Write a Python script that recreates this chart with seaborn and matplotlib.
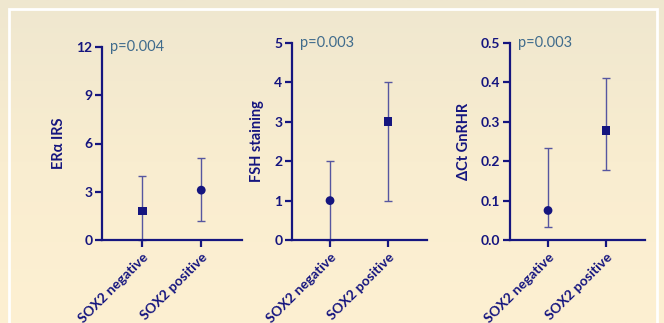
import numpy as np
import pandas as pd
import matplotlib
matplotlib.use("Agg")
import matplotlib.pyplot as plt
import seaborn as sns
from matplotlib.colors import LinearSegmentedColormap
from matplotlib.patches import Rectangle

categories = ["SOX2 negative", "SOX2 positive"]

era_values = [1.8, 3.1]
era_low = [0.0, 1.2]
era_high = [4.0, 5.1]
era_markers = ["s", "o"]

fsh_values = [1.0, 3.0]
fsh_low = [0.0, 1.0]
fsh_high = [2.0, 4.0]
fsh_markers = ["o", "s"]

gnrhr_values = [0.075, 0.277]
gnrhr_low = [0.032, 0.178]
gnrhr_high = [0.233, 0.41]
gnrhr_markers = ["o", "s"]

ylabels = ["ERα IRS", "FSH staining", "ΔCt GnRHR"]
p_texts = ["p=0.004", "p=0.003", "p=0.003"]
yticks_list = [[0, 3, 6, 9, 12], [0, 1, 2, 3, 4, 5], [0.0, 0.1, 0.2, 0.3, 0.4, 0.5]]
ytick_labels = [["0", "3", "6", "9", "12"], ["0", "1", "2", "3", "4", "5"],
                ["0.0", "0.1", "0.2", "0.3", "0.4", "0.5"]]

sns.set_theme(style="white")
plt.rcParams["font.family"] = ["Lato", "DejaVu Sans"]

NAVY = "#15157f"
ERR = "#5656a0"
PCOL = "#3f6b8c"

fig = plt.figure(figsize=(6.64, 3.23), dpi=100)
# background gradient
bg = fig.add_axes([0, 0, 1, 1], zorder=-10)
cmap = LinearSegmentedColormap.from_list("bg", ["#fdf0d2", "#f9edd0", "#efe7cf"])
grad = np.linspace(0, 1, 256).reshape(-1, 1)
bg.imshow(grad, aspect="auto", cmap=cmap, origin="lower", extent=[0, 1, 0, 1])
bg.add_patch(Rectangle((8.5 / 664, -0.1), (657 - 8.5) / 664, 1.1 - 8.5 / 323,
                       fill=False, edgecolor="white", linewidth=2.0))
bg.set_xlim(0, 1); bg.set_ylim(0, 1)
bg.axis("off")

positions = [
    [102 / 664, 1 - 240 / 323, 140 / 664, (240 - 47) / 323],
    [292 / 664, 1 - 240 / 323, 135 / 664, (240 - 43) / 323],
    [510 / 664, 1 - 240 / 323, 135 / 664, (240 - 43) / 323],
]
xlims = [(-0.68, 1.69), (-0.655, 1.67), (-0.655, 1.67)]

datasets = [
    (era_values, era_low, era_high, era_markers),
    (fsh_values, fsh_low, fsh_high, fsh_markers),
    (gnrhr_values, gnrhr_low, gnrhr_high, gnrhr_markers),
]

for i, (vals, lo, hi, mk) in enumerate(datasets):
    ax = fig.add_axes(positions[i])
    ax.set_facecolor("none")
    df = pd.DataFrame({"group": categories, "x": [0, 1], "value": vals,
                       "lo": lo, "hi": hi})
    yerr = np.array([df["value"] - df["lo"], df["hi"] - df["value"]])
    ax.errorbar(df["x"], df["value"], yerr=yerr, fmt="none", ecolor=ERR,
                elinewidth=1.0, capsize=3, capthick=1.0, zorder=2, clip_on=False)
    sns.scatterplot(data=df, x="x", y="value", style="group",
                    markers=dict(zip(categories, mk)), color=NAVY,
                    s=40, edgecolor=NAVY, linewidth=0, legend=False, ax=ax,
                    zorder=3, clip_on=False)
    yt = yticks_list[i]
    ax.set_ylim(yt[0], yt[-1])
    ax.set_xlim(*xlims[i])
    ax.set_yticks(yt)
    ax.set_yticklabels(ytick_labels[i], fontsize=10, fontweight="bold", color=NAVY)
    ax.set_xticks([0, 1])
    ax.set_xticklabels(categories, rotation=45, ha="right", rotation_mode="anchor",
                       fontsize=10, fontweight="bold", color=NAVY)
    ax.set_xlabel("")
    ax.set_ylabel(ylabels[i], fontsize=10.5, fontweight="bold", color=NAVY, labelpad=7)
    for s in ["top", "right"]:
        ax.spines[s].set_visible(False)
    for s in ["left", "bottom"]:
        ax.spines[s].set_color(NAVY)
        ax.spines[s].set_linewidth(1.6)
    ax.tick_params(axis="both", which="both", direction="out", color=NAVY,
                   width=1.6, length=5, pad=2, left=True, bottom=True)
    ax.tick_params(axis="x", length=5, pad=3)
    ax.text(0.06, 1.0, p_texts[i], transform=ax.transAxes, fontsize=10.5,
            color=PCOL, va="center", ha="left")

fig.savefig("out.png", dpi=100)
